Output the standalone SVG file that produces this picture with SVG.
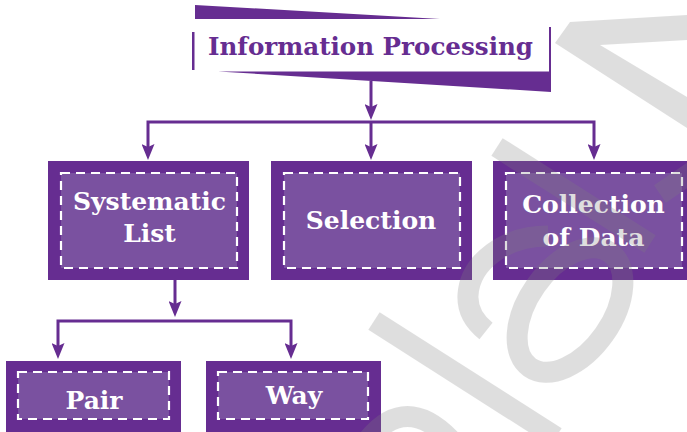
<svg xmlns="http://www.w3.org/2000/svg" width="687" height="432" viewBox="0 0 687 432">
<defs>
<style>
.outer{fill:#662d91;}
.inner{fill:#7a51a0;stroke:#ffffff;stroke-width:2.2;stroke-dasharray:9 6;}
.lbl{font-family:"DejaVu Serif","Liberation Serif",serif;font-weight:bold;font-size:25px;fill:#ffffff;text-anchor:middle;}
.title{font-family:"DejaVu Serif","Liberation Serif",serif;font-weight:bold;font-size:25px;fill:#662d91;text-anchor:middle;}
.conn{fill:none;stroke:#662d91;stroke-width:3;}
.wm{fill:none;stroke:#808080;stroke-width:21;}
</style>
<marker id="arr" markerWidth="16" markerHeight="13" refX="10" refY="6.5" orient="auto" markerUnits="userSpaceOnUse">
<path d="M0,0 L16,6.5 L0,13 L3,6.5 Z" fill="#662d91"/>
</marker>
</defs>
<rect x="0" y="0" width="687" height="432" fill="#ffffff"/>

<g id="title">
<polygon points="195,5 440,19 195,19" fill="#662d91"/>
<rect x="192" y="32" width="2.5" height="38" fill="#662d91"/>
<polygon points="218,71.5 549,71.5 549,27 551,27 551,92" fill="#662d91"/>
<text class="title" x="370.5" y="55" textLength="325" lengthAdjust="spacingAndGlyphs">Information Processing</text>
</g>

<g id="connectors">
<path class="conn" d="M371,81 V114" marker-end="url(#arr)"/>
<path class="conn" d="M371,122 H148 V154" marker-end="url(#arr)"/>
<path class="conn" d="M371,122 V154" marker-end="url(#arr)"/>
<path class="conn" d="M371,122 H594 V154" marker-end="url(#arr)"/>
<path class="conn" d="M175,280 V311" marker-end="url(#arr)"/>
<path class="conn" d="M175,321 H58 V353" marker-end="url(#arr)"/>
<path class="conn" d="M175,321 H291 V353" marker-end="url(#arr)"/>
</g>

<g id="systematic-list">
<rect class="outer" x="48" y="161" width="201" height="119"/>
<rect class="inner" x="61" y="173" width="176" height="95"/>
<text class="lbl" x="149.5" y="210">Systematic</text>
<text class="lbl" x="149.5" y="242">List</text>
</g>

<g id="selection">
<rect class="outer" x="271" y="161" width="201" height="119"/>
<rect class="inner" x="284" y="173" width="176" height="95"/>
<text class="lbl" x="371" y="229">Selection</text>
</g>

<g id="collection-of-data">
<rect class="outer" x="493" y="161" width="201" height="119"/>
<rect class="inner" x="506" y="173" width="176" height="95"/>
<text class="lbl" x="593.5" y="213">Collection</text>
<text class="lbl" x="593.5" y="246">of Data</text>
</g>

<g id="pair">
<rect class="outer" x="6" y="361" width="175" height="75"/>
<rect class="inner" x="18" y="372" width="151" height="47"/>
<text class="lbl" x="94" y="409">Pair</text>
</g>

<g id="way">
<rect class="outer" x="206" y="361" width="175" height="75"/>
<rect class="inner" x="218" y="372" width="150" height="47"/>
<text class="lbl" x="294" y="404">Way</text>
</g>

<g id="watermark" opacity="0.25">
<polygon points="570,22 687,15 687,40 600,45 687,97 687,128 555,43" fill="#808080"/>
<line class="wm" x1="374" y1="321" x2="556" y2="437" stroke-width="22"/>
<line class="wm" x1="497" y1="147" x2="650" y2="244" stroke-width="23"/>
<line class="wm" x1="660" y1="194" x2="695" y2="170"/>
<ellipse class="wm" cx="570" cy="310" rx="70" ry="42" transform="rotate(-55 570 310)"/>
<path class="wm" d="M548,236 C505,236 470,262 468,295 C467,312 476,323 486,331"/>
<path class="wm" d="M362,448 Q405,385 458,448"/>
</g>
</svg>
